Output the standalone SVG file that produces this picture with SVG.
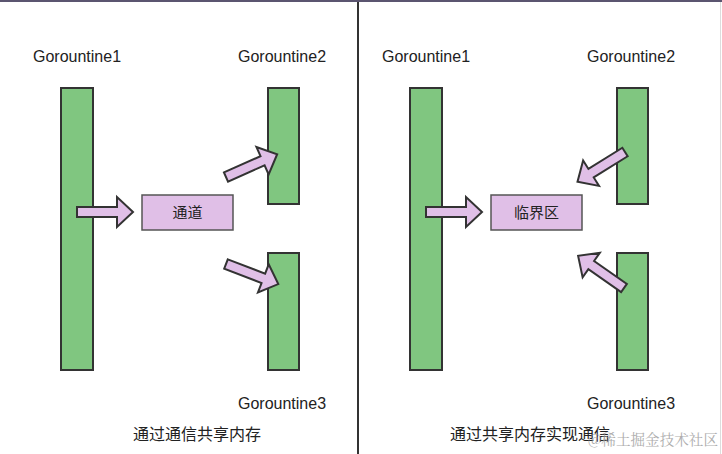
<svg xmlns="http://www.w3.org/2000/svg" width="722" height="454" viewBox="0 0 722 454">
<defs>
<style>
.bar{fill:#80c680;stroke:#333;stroke-width:2}
.box{fill:#e0bfe7;stroke:#555;stroke-width:1.5}
.arr{fill:#e0bfe7;stroke:#333;stroke-width:2;stroke-linejoin:miter}
.lbl{font-family:"Liberation Sans","Noto Sans CJK SC",sans-serif;font-size:16px;fill:#222}
.cjk{font-family:"Noto Sans CJK SC","Liberation Sans",sans-serif;font-size:15px;fill:#222;text-anchor:middle}
</style>
<path id="blk" d="M0,-5 H40 V-15 L56,0 L40,15 V5 H0 Z"/>
</defs>
<rect width="722" height="454" fill="#ffffff"/>
<rect x="0" y="0" width="722" height="2" fill="#5b5570"/>
<line x1="358" y1="2" x2="358" y2="454" stroke="#333" stroke-width="2"/>
<line x1="720.5" y1="2" x2="720.5" y2="454" stroke="#ddd" stroke-width="1"/>

<!-- Left panel -->
<g id="L-g1"><rect class="bar" x="61" y="88" width="32" height="282"/><text class="lbl" x="33" y="62">Gorountine1</text></g>
<g id="L-g2"><rect class="bar" x="268" y="88" width="31" height="116"/><text class="lbl" x="238" y="62">Gorountine2</text></g>
<g id="L-g3"><rect class="bar" x="268" y="253" width="31" height="117"/><text class="lbl" x="238" y="409">Gorountine3</text></g>
<g id="L-chan"><rect class="box" x="142" y="195" width="91" height="35"/><text class="cjk" x="187.5" y="217.5">通道</text></g>

<!-- Right panel -->
<g id="R-g1"><rect class="bar" x="410" y="88" width="32" height="282"/><text class="lbl" x="382" y="62">Gorountine1</text></g>
<g id="R-g2"><rect class="bar" x="617" y="88" width="31" height="116"/><text class="lbl" x="587" y="62">Gorountine2</text></g>
<g id="R-g3"><rect class="bar" x="617" y="253" width="31" height="117"/><text class="lbl" x="587" y="409">Gorountine3</text></g>
<g id="R-crit"><rect class="box" x="491" y="195" width="91" height="35"/><text class="cjk" x="536.5" y="217.5">临界区</text></g>

<g id="connectors">
<use href="#blk" class="arr" transform="translate(77,212)"/>
<use href="#blk" class="arr" transform="translate(226,177) rotate(-24)"/>
<use href="#blk" class="arr" transform="translate(226,264) rotate(21)"/>
<use href="#blk" class="arr" transform="translate(426,212)"/>
<use href="#blk" class="arr" transform="translate(625,152) rotate(148)"/>
<use href="#blk" class="arr" transform="translate(624,288) rotate(215)"/>
</g>

<text class="cjk" x="197" y="440" style="font-size:16px">通过通信共享内存</text>
<text class="cjk" x="530" y="440" style="font-size:16px">通过共享内存实现通信</text>
<text x="588" y="445" style="font-family:'Noto Serif CJK SC','Noto Sans CJK SC',serif;font-size:14.5px;fill:#999;opacity:0.8" textLength="130" lengthAdjust="spacingAndGlyphs">@稀土掘金技术社区</text>
</svg>
